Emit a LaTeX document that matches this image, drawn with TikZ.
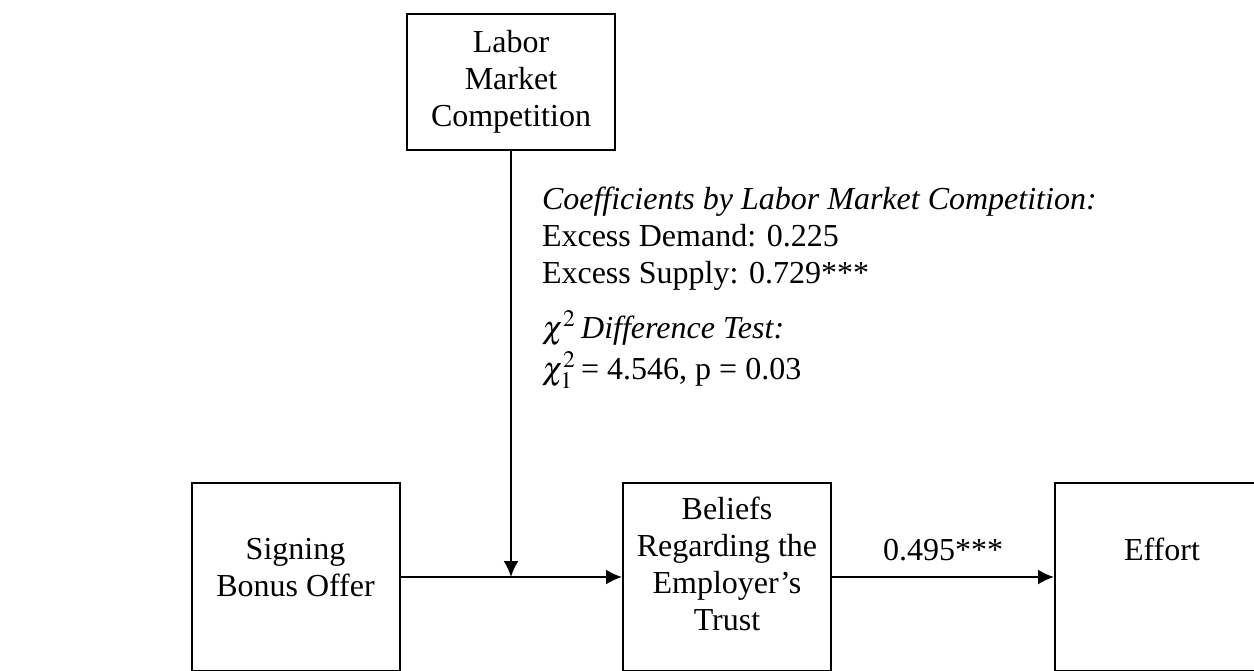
\documentclass[tikz,border=0pt]{standalone}
\usepackage{mathptmx}
\usepackage{fontspec}
\setmainfont{Liberation Serif}
\usetikzlibrary{arrows.meta}

\begin{document}
\begin{tikzpicture}
  [x=0.5pt,y=-0.5pt,line width=1pt,
   every node/.style={font=\fontsize{16}{18.5}\selectfont,align=center},
   box/.style={draw,rectangle,minimum width=104pt,inner sep=0pt},
   arr/.style={-{Latex[length=8pt,width=7.5pt]}}]
  \useasboundingbox (0,0) rectangle (1254,670);
  \clip (0,0) rectangle (1254,670);

  % boxes
  \node[box,minimum height=68pt] (lmc) at (511,82) {Labor\\Market\\Competition};
  \node[box,minimum height=94pt] (sbo) at (295.5,577) {};
  \node[box,minimum height=94pt] (bel) at (727,577) {};
  \node[box,minimum height=94pt] (eff) at (1159,577) {};

  % box texts
  \node (sbotxt) at (295.5,568) {Signing\\Bonus Offer};
  \node (beltxt) at (727,564) {Beliefs\\Regarding the\\Employer's\\Trust};
  \node (efftxt) at (1162,549) {Effort};

  % moderation results
  \node[anchor=north west,align=left,inner sep=0pt] (coef) at (541,186)
    {\textit{Coefficients by Labor Market Competition:}\\
     Excess Demand: 0.225\\
     Excess Supply: 0.729***\\[9pt]
     $\chi^2$\,\textit{Difference Test:}\\[2pt]
     $\chi^2_1$\,= 4.546, p = 0.03};

  % paths
  \coordinate (mod) at (lmc.south |- sbo.east);
  \draw[arr] (sbo) -- (bel);
  \draw[arr] (bel) -- node[above=4pt] (b2) {0.495***} (eff);
  \draw[arr] (lmc) -- (mod);

\end{tikzpicture}
\end{document}
